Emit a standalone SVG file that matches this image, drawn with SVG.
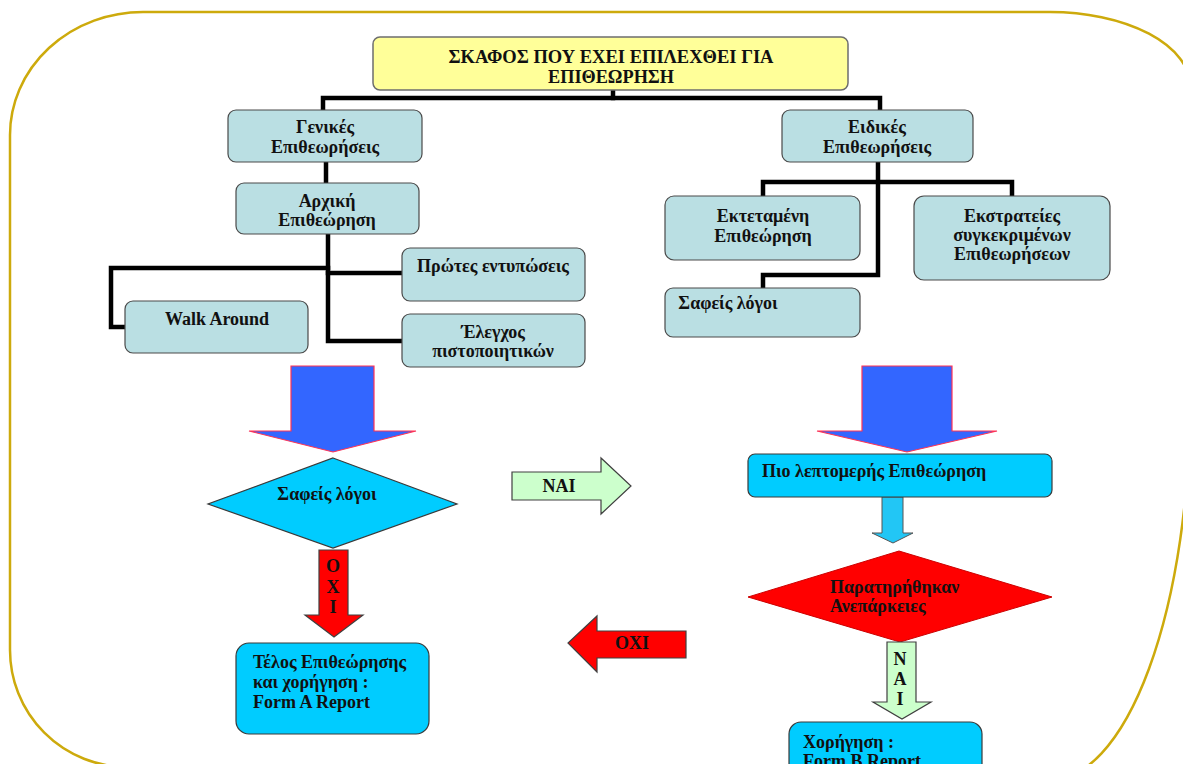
<svg xmlns="http://www.w3.org/2000/svg" width="1183" height="764" viewBox="0 0 1183 764" font-family="'Liberation Serif', 'DejaVu Serif', serif">
  <style>
    text { font-family: "Liberation Serif", "DejaVu Serif", serif; font-weight: bold; font-size: 18px; fill: #111; }
    .c { text-anchor: middle; }
    .teal { fill: #BADFE3; stroke: #4a4a4a; stroke-width: 1.2; }
    .cyan { fill: #00CCFF; stroke: #3a3a3a; stroke-width: 1.2; }
    .link { fill: none; stroke: #000; stroke-width: 4.5; stroke-linejoin: miter; stroke-linecap: square; }
    .blue { fill: #3366FF; stroke: #FF3355; stroke-width: 1.2; }
    .red { fill: #FF0000; stroke: #404040; stroke-width: 1.2; }
    .green { fill: #CCFFCC; stroke: #404040; stroke-width: 1.2; }
  </style>

  <rect width="1183" height="764" fill="#ffffff"/>

  <!-- rounded page frame -->
  <path d="M127,767 A117,117 0 0 1 10,650 L10,135 A133,123 0 0 1 143,12 L1050,12 A140,74 0 0 1 1190,86 L1190,400 A140,380 0 0 1 1050,780"
        fill="none" stroke="#CDAA0C" stroke-width="2.5"/>

  <!-- tree connectors -->
  <g id="connectors">
    <path class="link" d="M613,90 V98"/>
    <path class="link" d="M323,110 V98 H880 V110"/>
    <path class="link" d="M326,162 V183"/>
    <path class="link" d="M328,234 V341 H402"/>
    <path class="link" d="M328,268 H111 V327 H125"/>
    <path class="link" d="M328,273 H402"/>
    <path class="link" d="M878,162 V275 H763 V288"/>
    <path class="link" d="M763,196 V182 H1012 V196"/>
  </g>

  <g id="root">
    <rect x="373" y="37" width="475" height="53" rx="7" fill="#FFFF99" stroke="#6e6e6e" stroke-width="1.5"/>
    <text class="c" x="611" y="63" textLength="325" lengthAdjust="spacingAndGlyphs">ΣΚΑΦΟΣ ΠΟΥ ΕΧΕΙ ΕΠΙΛΕΧΘΕΙ ΓΙΑ</text>
    <text class="c" x="611" y="83" textLength="126" lengthAdjust="spacingAndGlyphs">ΕΠΙΘΕΩΡΗΣΗ</text>
  </g>

  <g id="general">
    <rect class="teal" x="228" y="110" width="194" height="52" rx="8"/>
    <text class="c" x="325" y="133">Γενικές</text>
    <text class="c" x="325" y="153">Επιθεωρήσεις</text>
  </g>

  <g id="initial">
    <rect class="teal" x="236" y="183" width="183" height="51" rx="8"/>
    <text class="c" x="327" y="207">Αρχική</text>
    <text class="c" x="327" y="226">Επιθεώρηση</text>
  </g>

  <g id="walk-around">
    <rect class="teal" x="125" y="301" width="183" height="52" rx="8"/>
    <text class="c" x="217" y="325">Walk Around</text>
  </g>

  <g id="first-impressions">
    <rect class="teal" x="402" y="248" width="183" height="53" rx="8"/>
    <text class="c" x="493" y="272">Πρώτες εντυπώσεις</text>
  </g>

  <g id="certificates">
    <rect class="teal" x="402" y="314" width="183" height="53" rx="8"/>
    <text class="c" x="493" y="338">Έλεγχος</text>
    <text class="c" x="493" y="357">πιστοποιητικών</text>
  </g>

  <g id="special">
    <rect class="teal" x="782" y="110" width="191" height="52" rx="8"/>
    <text class="c" x="877" y="133">Ειδικές</text>
    <text class="c" x="877" y="153">Επιθεωρήσεις</text>
  </g>

  <g id="extended">
    <rect class="teal" x="665" y="196" width="195" height="64" rx="9"/>
    <text class="c" x="763" y="222">Εκτεταμένη</text>
    <text class="c" x="763" y="242">Επιθεώρηση</text>
  </g>

  <g id="campaigns">
    <rect class="teal" x="914" y="196" width="196" height="84" rx="10"/>
    <text class="c" x="1012" y="222">Εκστρατείες</text>
    <text class="c" x="1012" y="241">συγκεκριμένων</text>
    <text class="c" x="1012" y="260">Επιθεωρήσεων</text>
  </g>

  <g id="clear-grounds-box">
    <rect class="teal" x="665" y="288" width="195" height="49" rx="8"/>
    <text class="c" x="728" y="309">Σαφείς λόγοι</text>
  </g>

  <!-- block arrows of the decision flow -->
  <g id="flow-arrows">
    <polygon class="blue" points="291,366 374,366 374,431 416,431 333,452 249,431 291,431"/>
    <polygon class="blue" points="862,366 952,366 952,431 997,431 907,452 817,431 862,431"/>
    <polygon fill="#22C6F5" stroke="#555" stroke-width="1" points="882,497 903,497 903,533 913,533 893,543 872,533 882,533"/>
  </g>

  <g id="clear-grounds-decision">
    <polygon class="cyan" points="333,458 457,504 333,548 208,504"/>
    <text class="c" x="327" y="500">Σαφείς λόγοι</text>
  </g>

  <g id="no-arrow-down">
    <polygon class="red" points="319,550 348,550 348,615 363,615 334,637 305,615 319,615"/>
    <text class="c" x="333" y="572">O</text>
    <text class="c" x="333" y="593">X</text>
    <text class="c" x="333" y="613">I</text>
  </g>

  <g id="end-form-a">
    <rect class="cyan" x="236" y="643" width="193" height="91" rx="13"/>
    <text x="253" y="668">Τέλος Επιθεώρησης</text>
    <text x="253" y="688">και χορήγηση :</text>
    <text x="253" y="708">Form A Report</text>
  </g>

  <g id="yes-arrow-right">
    <polygon class="green" points="512,472 601,472 601,458 631,486 601,514 601,500 512,500"/>
    <text class="c" x="559" y="492">NAI</text>
  </g>

  <g id="no-arrow-left">
    <polygon class="red" points="686,631 597,631 597,616 568,643 597,672 597,658 686,658"/>
    <text class="c" x="632" y="649">OXI</text>
  </g>

  <g id="detailed">
    <rect class="cyan" x="748" y="454" width="304" height="43" rx="7"/>
    <text x="762" y="477">Πιο λεπτομερής Επιθεώρηση</text>
  </g>

  <g id="deficiencies">
    <polygon fill="#FF0000" stroke="#cc0000" stroke-width="1" points="899,551 1052,597 900,642 748,597"/>
    <text x="830" y="593">Παρατηρήθηκαν</text>
    <text x="830" y="612">Ανεπάρκειες</text>
  </g>

  <g id="yes-arrow-down">
    <polygon class="green" points="887,642 916,642 916,702 931,702 902,719 873,702 887,702"/>
    <text class="c" x="900" y="665">N</text>
    <text class="c" x="900" y="685">A</text>
    <text class="c" x="900" y="705">I</text>
  </g>

  <g id="form-b">
    <rect class="cyan" x="789" y="722" width="193" height="70" rx="12"/>
    <text x="803" y="748">Χορήγηση :</text>
    <text x="803" y="767">Form B Report</text>
  </g>
</svg>
